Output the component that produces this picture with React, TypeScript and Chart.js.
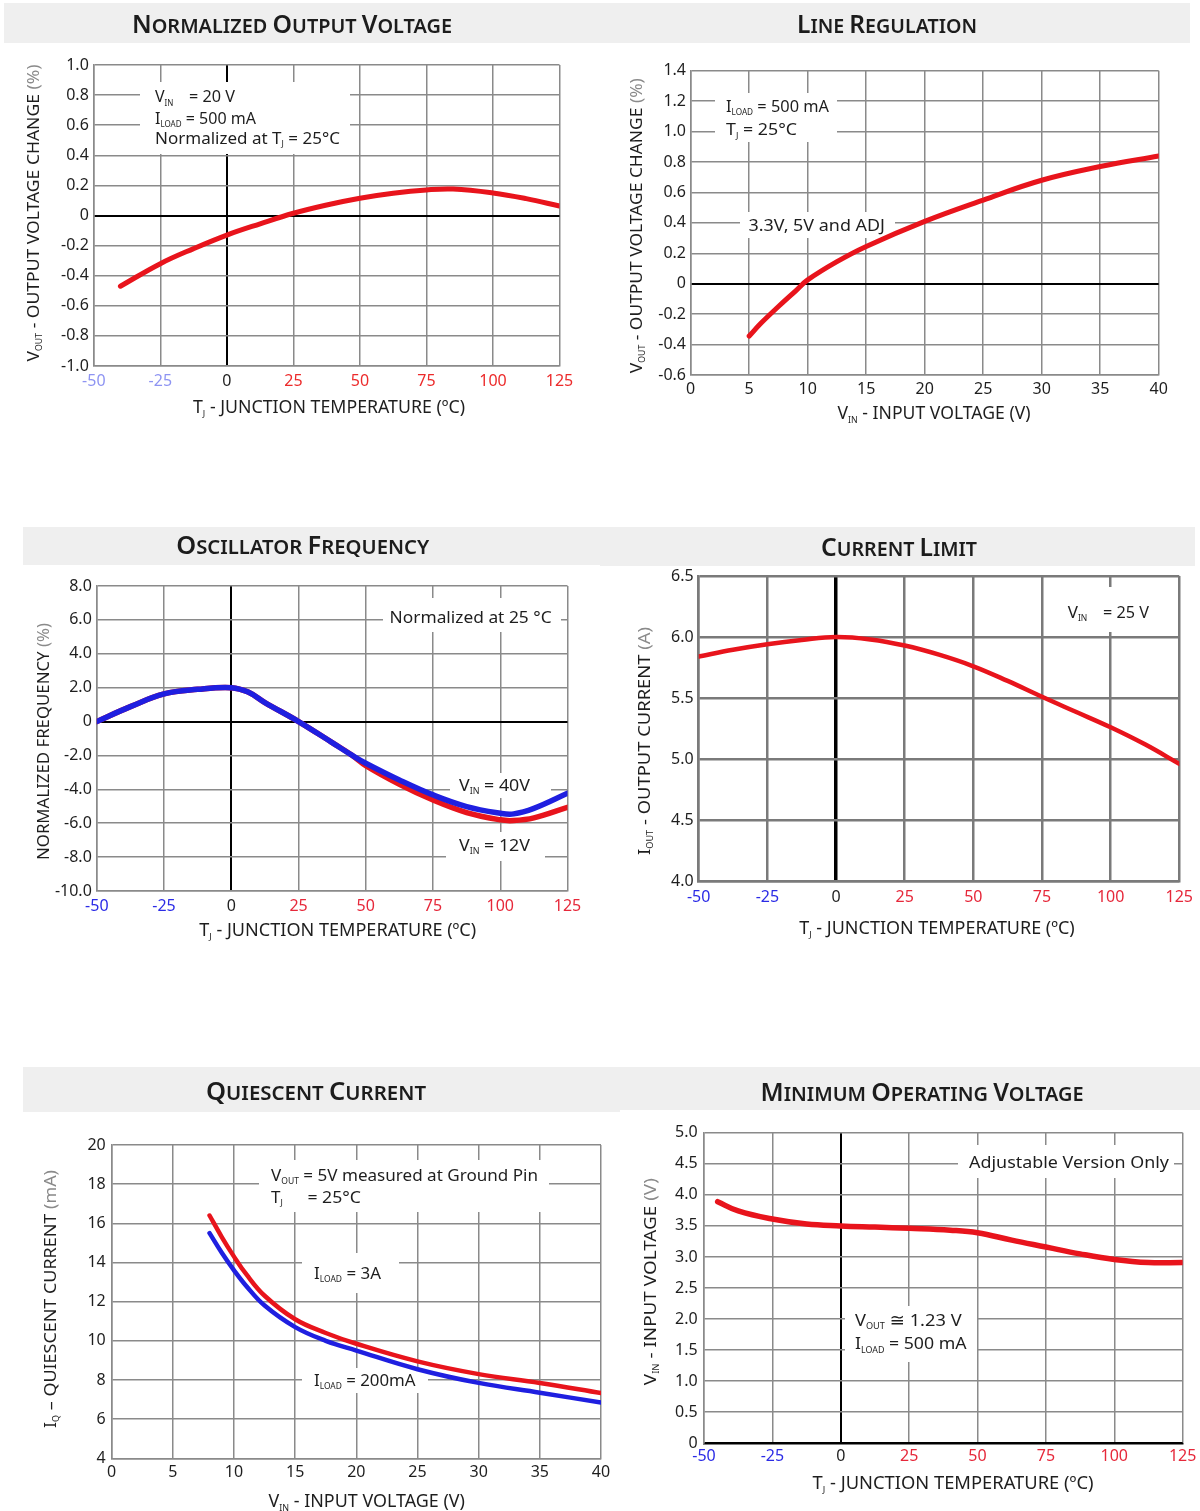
import React, { useEffect, useRef } from 'react';
import { Chart, registerables } from 'chart.js';
Chart.register(...registerables);

const FONT = "'Noto Sans', 'DejaVu Sans', sans-serif";
const RED = '#e8141c';
const BLUE = '#1f1fe0';

// ---------- tick values ----------
const tempTicks = [-50, -25, 0, 25, 50, 75, 100, 125];
const vinTicks = [0, 5, 10, 15, 20, 25, 30, 35, 40];
const novTicks = [-1.0, -0.8, -0.6, -0.4, -0.2, 0, 0.2, 0.4, 0.6, 0.8, 1.0];
const lrTicks = [-0.6, -0.4, -0.2, 0, 0.2, 0.4, 0.6, 0.8, 1.0, 1.2, 1.4];
const oscTicks = [-10, -8, -6, -4, -2, 0, 2, 4, 6, 8];
const clTicks = [4.0, 4.5, 5.0, 5.5, 6.0, 6.5];
const qTicks = [4, 6, 8, 10, 12, 14, 16, 18, 20];
const moTicks = [0, 0.5, 1.0, 1.5, 2.0, 2.5, 3.0, 3.5, 4.0, 4.5, 5.0];

// ---------- series ----------
const novTemp = [-40, -25, -12.5, 0, 12.5, 25, 37.5, 50, 62.5, 75, 85, 100, 112.5, 125];
const novChange = [-0.47, -0.32, -0.22, -0.13, -0.055, 0.015, 0.07, 0.115, 0.148, 0.17, 0.176, 0.15, 0.112, 0.063];

const lrVin = [5, 6, 7.5, 9, 10, 12.5, 15, 20, 25, 30, 35, 40];
const lrChange = [-0.344, -0.26, -0.15, -0.045, 0.025, 0.145, 0.245, 0.41, 0.55, 0.68, 0.77, 0.84];

const oscTemp = [-50, -37.5, -25, -12.5, 0, 6.25, 12.5, 25, 37.5, 45, 50, 62.5, 75, 87.5, 100, 105, 112.5, 125];
const osc40V = [0, 0.88, 1.63, 1.9, 2.0, 1.74, 1.12, 0, -1.24, -2.0, -2.46, -3.45, -4.33, -5.02, -5.41, -5.45, -5.12, -4.23];
const osc12V = [0, 0.88, 1.63, 1.9, 2.0, 1.74, 1.12, 0, -1.24, -2.0, -2.6, -3.7, -4.63, -5.37, -5.8, -5.84, -5.68, -5.06];

const clTemp = [-50, -37.5, -25, -12.5, 0, 12.5, 25, 37.5, 50, 62.5, 75, 87.5, 100, 112.5, 125];
const clCurrent = [5.84, 5.895, 5.94, 5.975, 6.0, 5.98, 5.93, 5.855, 5.76, 5.64, 5.51, 5.385, 5.26, 5.12, 4.96];

const qVin = [8, 9, 10, 11, 12.5, 15, 17.5, 20, 25, 30, 35, 40];
const q3A = [16.4, 15.3, 14.3, 13.4, 12.3, 11.1, 10.4, 9.85, 8.95, 8.3, 7.85, 7.33];
const q200mA = [15.5, 14.5, 13.6, 12.8, 11.8, 10.7, 10.0, 9.5, 8.55, 7.85, 7.35, 6.85];

const moTemp = [-45, -37.5, -25, -12.5, 0, 12.5, 25, 40, 50, 62.5, 75, 87.5, 100, 112.5, 125];
const moVin = [3.89, 3.74, 3.61, 3.53, 3.5, 3.48, 3.46, 3.43, 3.39, 3.27, 3.16, 3.05, 2.96, 2.91, 2.91];

// ---------- rich text helpers ----------
type Seg = { t: string; k: number; dy: number; c?: string };

function parseRich(s: string): Seg[] {
  const out: Seg[] = [];
  const re = /_\{([^}]*)\}|~\{([^}]*)\}|([^_~]+)/g;
  let m: RegExpExecArray | null;
  while ((m = re.exec(s))) {
    if (m[1] !== undefined) out.push({ t: m[1], k: 0.5, dy: 0.2 });
    else if (m[2] !== undefined) out.push({ t: m[2], k: 1, dy: 0, c: '#8a8a8a' });
    else out.push({ t: m[3], k: 1, dy: 0 });
  }
  return out;
}

function smallCaps(s: string): Seg[] {
  const out: Seg[] = [];
  s.split(' ').forEach((w, i) => {
    if (i > 0) out.push({ t: ' ', k: 0.8, dy: 0 });
    out.push({ t: w[0].toUpperCase(), k: 1, dy: 0 });
    if (w.length > 1) out.push({ t: w.slice(1).toUpperCase(), k: 0.8, dy: 0 });
  });
  return out;
}

function drawRich(ctx: any, segs: Seg[], x: number, y: number, o: any) {
  ctx.save();
  ctx.translate(x, y);
  if (o.rotate) ctx.rotate(-Math.PI / 2);
  const fontOf = (k: number) => `${o.weight || 'normal'} ${(o.size * k).toFixed(2)}px ${FONT}`;
  const ws = segs.map((s) => {
    ctx.font = fontOf(s.k);
    return ctx.measureText(s.t).width;
  });
  const total = ws.reduce((a: number, b: number) => a + b, 0);
  const sx = o.width ? o.width / total : 1;
  ctx.scale(sx, 1);
  let cx = o.align === 'center' ? -total / 2 : 0;
  ctx.textBaseline = 'alphabetic';
  ctx.textAlign = 'left';
  const base = o.size * 0.357;
  segs.forEach((s, i) => {
    ctx.font = fontOf(s.k);
    ctx.fillStyle = s.c || o.color || '#222';
    ctx.fillText(s.t, cx, base + s.dy * o.size);
    cx += ws[i];
  });
  ctx.restore();
}

// ---------- panels ----------
const GRID = { color: '#8a8a8a', width: 1.5, zeroWidth: 2 };

const PANELS: any[] = [
  {
    id: 'nov',
    canvas: { x: 0, y: 0, w: 600, h: 440 },
    plot: { l: 93.8, t: 65, r: 559.5, b: 366 },
    band: { x: 4, y: 3, w: 596, h: 40 },
    title: { text: 'Normalized Output Voltage', x: 292, y: 24.2, size: 25, width: 320 },
    xTitle: { text: 'T_{J} - JUNCTION TEMPERATURE (ºC)', x: 329, y: 407, size: 18, width: 272 },
    yTitle: { text: 'V_{OUT} - OUTPUT VOLTAGE CHANGE ~{(%)}', x: 33, y: 213, size: 17, width: 297 },
    boxes: [{ x: 140, y: 82, w: 210, h: 72 }],
    notes: [
      { text: 'V_{IN}', x: 155, y: 96.7, size: 16 },
      { text: '= 20 V', x: 189, y: 96.7, size: 16, width: 46 },
      { text: 'I_{LOAD} = 500 mA', x: 155, y: 118.3, size: 16, width: 101 },
      { text: 'Normalized at T_{J} = 25°C', x: 155, y: 138.3, size: 16, width: 185 },
    ],
    xTicks: tempTicks, yTicks: novTicks, yDec: 1, xPalette: 'faded', zeroX: true, zeroY: true,
    grid: GRID, xPad: 6, yPad: 5,
    series: [{ xs: novTemp, ys: novChange, color: RED, width: 5 }],
  },
  {
    id: 'lr',
    canvas: { x: 600, y: 0, w: 600, h: 440 },
    plot: { l: 690.7, t: 70.7, r: 1158.7, b: 375 },
    band: { x: 600, y: 3, w: 590, h: 40 },
    title: { text: 'Line Regulation', x: 887, y: 24, size: 25, width: 180 },
    xTitle: { text: 'V_{IN} - INPUT VOLTAGE (V)', x: 934, y: 413, size: 18, width: 193 },
    yTitle: { text: 'V_{OUT} - OUTPUT VOLTAGE CHANGE ~{(%)}', x: 636, y: 225.7, size: 17, width: 295 },
    boxes: [{ x: 715, y: 93, w: 122, h: 49 }, { x: 740, y: 212, w: 155, h: 26 }],
    notes: [
      { text: 'I_{LOAD} = 500 mA', x: 726, y: 106, size: 17, width: 103 },
      { text: 'T_{J} = 25°C', x: 726, y: 129.3, size: 17, width: 71 },
      { text: '3.3V, 5V and ADJ', x: 748.5, y: 225, size: 17, width: 136.5 },
    ],
    xTicks: vinTicks, yTicks: lrTicks, yDec: 1, xPalette: 'plain', zeroX: false, zeroY: true,
    grid: GRID, xPad: 4.4, yPad: 4.7,
    series: [{ xs: lrVin, ys: lrChange, color: RED, width: 5 }],
  },
  {
    id: 'osc',
    canvas: { x: 0, y: 515, w: 600, h: 435 },
    plot: { l: 96.8, t: 586, r: 567.5, b: 891 },
    band: { x: 23, y: 527, w: 577, h: 38 },
    title: { text: 'Oscillator Frequency', x: 302.7, y: 545, size: 25, width: 253 },
    xTitle: { text: 'T_{J} - JUNCTION TEMPERATURE (ºC)', x: 337.7, y: 930, size: 18, width: 277 },
    yTitle: { text: 'NORMALIZED FREQUENCY ~{(%)}', x: 43, y: 741.5, size: 17, width: 237 },
    boxes: [{ x: 383, y: 598, w: 178, h: 34 }, { x: 450, y: 773, w: 101, h: 25 }, { x: 446, y: 832, w: 99, h: 29 }],
    notes: [
      { text: 'Normalized at 25 °C', x: 389.6, y: 616.7, size: 17, width: 162 },
      { text: 'V_{IN} = 40V', x: 459, y: 785, size: 17, width: 71 },
      { text: 'V_{IN} = 12V', x: 459, y: 845, size: 17, width: 71 },
    ],
    xTicks: tempTicks, yTicks: oscTicks, yDec: 1, xPalette: 'vivid', zeroX: true, zeroY: true,
    grid: GRID, xPad: 5.4, yPad: 5,
    series: [
      { xs: oscTemp, ys: osc40V, color: BLUE, width: 5.5 },
      { xs: oscTemp, ys: osc12V, color: RED, width: 5.5 },
    ],
  },
  {
    id: 'cl',
    canvas: { x: 600, y: 515, w: 600, h: 435 },
    plot: { l: 698.7, t: 576, r: 1179.8, b: 881 },
    band: { x: 600, y: 527, w: 595, h: 39 },
    title: { text: 'Current Limit', x: 899, y: 546.7, size: 25, width: 156 },
    xTitle: { text: 'T_{J} - JUNCTION TEMPERATURE (ºC)', x: 937, y: 927.5, size: 18, width: 275.5 },
    yTitle: { text: 'I_{OUT} - OUTPUT CURRENT ~{(A)}', x: 644, y: 741, size: 17, width: 228 },
    boxes: [{ x: 1057, y: 587, w: 96, h: 45 }],
    notes: [
      { text: 'V_{IN}', x: 1067.7, y: 611.7, size: 17 },
      { text: '= 25 V', x: 1103, y: 611.7, size: 17, width: 46 },
    ],
    xTicks: tempTicks, yTicks: clTicks, yDec: 1, xPalette: 'vivid', zeroX: true, zeroY: false,
    grid: { color: '#7a7a7a', width: 2.5, zeroWidth: 3.5 }, xPad: 7, yPad: 5,
    series: [{ xs: clTemp, ys: clCurrent, color: RED, width: 4.5 }],
  },
  {
    id: 'q',
    canvas: { x: 0, y: 1055, w: 620, h: 456 },
    plot: { l: 111.7, t: 1145, r: 601, b: 1458.3 },
    band: { x: 23, y: 1067, w: 597, h: 45 },
    title: { text: 'Quiescent Current', x: 316, y: 1091.5, size: 25, width: 220 },
    xTitle: { text: 'V_{IN} - INPUT VOLTAGE (V)', x: 366.7, y: 1501, size: 18, width: 196.5 },
    yTitle: { text: 'I_{Q} – QUIESCENT CURRENT ~{(mA)}', x: 50, y: 1299, size: 17, width: 258 },
    boxes: [{ x: 259, y: 1160, w: 290, h: 52 }, { x: 302, y: 1253, w: 97, h: 40 }, { x: 302, y: 1368, w: 126, h: 25 }],
    notes: [
      { text: 'V_{OUT} = 5V measured at Ground Pin', x: 271, y: 1175, size: 17, width: 267 },
      { text: 'T_{J}', x: 271, y: 1196.7, size: 17 },
      { text: '= 25°C', x: 307.4, y: 1196.7, size: 17, width: 53.6 },
      { text: 'I_{LOAD} = 3A', x: 314, y: 1273, size: 17, width: 67 },
      { text: 'I_{LOAD} = 200mA', x: 314, y: 1380, size: 17, width: 101.6 },
    ],
    xTicks: vinTicks, yTicks: qTicks, yDec: 0, xPalette: 'plain', zeroX: false, zeroY: false,
    grid: GRID, xPad: 4.5, yPad: 6,
    series: [
      { xs: qVin, ys: q3A, color: RED, width: 4.5 },
      { xs: qVin, ys: q200mA, color: BLUE, width: 4.5 },
    ],
  },
  {
    id: 'mo',
    canvas: { x: 600, y: 1055, w: 600, h: 456 },
    plot: { l: 704, t: 1132.7, r: 1184.4, b: 1443.3 },
    band: { x: 600, y: 1067, w: 600, h: 43 },
    title: { text: 'Minimum Operating Voltage', x: 922, y: 1092, size: 25, width: 323 },
    xTitle: { text: 'T_{J} - JUNCTION TEMPERATURE (ºC)', x: 953, y: 1483, size: 18, width: 281 },
    yTitle: { text: 'V_{IN} - INPUT VOLTAGE ~{(V)}', x: 650, y: 1281.7, size: 17, width: 207 },
    boxes: [{ x: 958, y: 1145, w: 216, h: 33 }, { x: 845, y: 1306, w: 132, h: 56 }],
    notes: [
      { text: 'Adjustable Version Only', x: 969, y: 1162.3, size: 17, width: 200 },
      { text: 'V_{OUT} ≅ 1.23 V', x: 855, y: 1320, size: 17, width: 106.6 },
      { text: 'I_{LOAD} = 500 mA', x: 855, y: 1343.3, size: 17, width: 111.6 },
    ],
    xTicks: tempTicks, yTicks: moTicks, yDec: 1, xPalette: 'vivid', zeroX: true, zeroY: true,
    grid: GRID, xPad: 3.6, yPad: 6.4,
    series: [{ xs: moTemp, ys: moVin, color: RED, width: 5.5 }],
  },
];

const near0 = (v: number) => Math.abs(v) < 1e-9;

function buildChart(canvas: HTMLCanvasElement, p: any) {
  const ox = p.canvas.x;
  const oy = p.canvas.y;
  const YW = 50;
  const XH = 30;
  const pal = p.xPalette === 'faded' ? { neg: '#8e94f2', pos: '#ec2b2b' } : { neg: '#2b2be6', pos: '#e6283a' };
  const deco = {
    id: 'deco',
    beforeDraw(chart: any) {
      const ctx = chart.ctx;
      ctx.save();
      ctx.fillStyle = '#efefef';
      ctx.fillRect(p.band.x - ox, p.band.y - oy, p.band.w, p.band.h);
      ctx.restore();
      drawRich(ctx, smallCaps(p.title.text), p.title.x - ox, p.title.y - oy, {
        size: p.title.size, width: p.title.width, align: 'center', weight: '600', color: '#1c1c1c',
      });
    },
    beforeDatasetsDraw(chart: any) {
      const ctx = chart.ctx;
      ctx.save();
      ctx.fillStyle = '#ffffff';
      p.boxes.forEach((b: any) => ctx.fillRect(b.x - ox, b.y - oy, b.w, b.h));
      ctx.restore();
      p.notes.forEach((n: any) =>
        drawRich(ctx, parseRich(n.text), n.x - ox, n.y - oy, { size: n.size, width: n.width, color: '#1e1e1e' })
      );
    },
    afterDraw(chart: any) {
      const ctx = chart.ctx;
      drawRich(ctx, parseRich(p.xTitle.text), p.xTitle.x - ox, p.xTitle.y - oy, {
        size: p.xTitle.size, width: p.xTitle.width, align: 'center', color: '#1e1e1e',
      });
      drawRich(ctx, parseRich(p.yTitle.text), p.yTitle.x - ox, p.yTitle.y - oy, {
        size: p.yTitle.size, width: p.yTitle.width, align: 'center', rotate: true, color: '#1e1e1e',
      });
    },
  };
  const xs = p.xTicks;
  const ys = p.yTicks;
  const g = p.grid;
  return new Chart(canvas, {
    type: 'line',
    data: {
      datasets: p.series.map((s: any) => ({
        data: s.xs.map((x: number, i: number) => ({ x, y: s.ys[i] })),
        borderColor: s.color,
        borderWidth: s.width,
        pointRadius: 0,
        fill: false,
        tension: 0.4,
        borderCapStyle: 'round',
        borderJoinStyle: 'round',
      })),
    },
    options: {
      animation: false,
      responsive: false,
      events: [],
      layout: {
        padding: {
          left: p.plot.l - ox - YW,
          top: p.plot.t - oy,
          right: ox + p.canvas.w - p.plot.r,
          bottom: oy + p.canvas.h - p.plot.b - XH,
        },
      },
      plugins: { legend: { display: false }, tooltip: { enabled: false }, title: { display: false } },
      scales: {
        x: {
          type: 'linear',
          min: xs[0],
          max: xs[xs.length - 1],
          afterBuildTicks: (s: any) => { s.ticks = xs.map((v: number) => ({ value: v })); },
          afterFit: (s: any) => { s.height = XH; },
          grid: {
            drawTicks: false,
            color: (c: any) => (p.zeroX && c.tick && near0(c.tick.value) ? '#000' : g.color),
            lineWidth: (c: any) => (p.zeroX && c.tick && near0(c.tick.value) ? g.zeroWidth : g.width),
          },
          border: { color: p.zeroY && near0(ys[0]) ? '#000' : g.color, width: g.width },
          ticks: {
            autoSkip: false,
            maxRotation: 0,
            minRotation: 0,
            padding: p.xPad,
            font: { family: FONT, size: 16 },
            color: (c: any) => {
              if (p.xPalette === 'plain') return '#1e1e1e';
              const v = c.tick ? c.tick.value : 0;
              return v < -1e-9 ? pal.neg : v > 1e-9 ? pal.pos : '#1e1e1e';
            },
            callback: (v: any) => String(Math.round(Number(v))),
          },
        },
        y: {
          type: 'linear',
          min: ys[0],
          max: ys[ys.length - 1],
          afterBuildTicks: (s: any) => { s.ticks = ys.map((v: number) => ({ value: v })); },
          afterFit: (s: any) => { s.width = YW; },
          grid: {
            drawTicks: false,
            color: (c: any) => (p.zeroY && c.tick && near0(c.tick.value) ? '#000' : g.color),
            lineWidth: (c: any) => (p.zeroY && c.tick && near0(c.tick.value) ? g.zeroWidth : g.width),
          },
          border: { color: p.zeroX && near0(xs[0]) ? '#000' : g.color, width: g.width },
          ticks: {
            autoSkip: false,
            padding: p.yPad,
            font: { family: FONT, size: 16 },
            color: '#1e1e1e',
            callback: (v: any) => (near0(Number(v)) ? '0' : Number(v).toFixed(p.yDec)),
          },
        },
      },
    } as any,
    plugins: [deco as any],
  } as any);
}

function PanelCanvas({ panel }: { panel: any }) {
  const ref = useRef<HTMLCanvasElement | null>(null);
  useEffect(() => {
    if (!ref.current) return;
    const chart = buildChart(ref.current, panel);
    return () => chart.destroy();
  }, [panel]);
  const c = panel.canvas;
  return (
    <canvas
      ref={ref}
      width={c.w}
      height={c.h}
      style={{ position: 'absolute', left: c.x, top: c.y, width: c.w, height: c.h }}
    />
  );
}

export default function App() {
  return (
    <div style={{ position: 'absolute', left: 0, top: 0, width: 1200, height: 1511, background: '#fff', overflow: 'hidden' }}>
      {PANELS.map((p) => (
        <PanelCanvas key={p.id} panel={p} />
      ))}
    </div>
  );
}
